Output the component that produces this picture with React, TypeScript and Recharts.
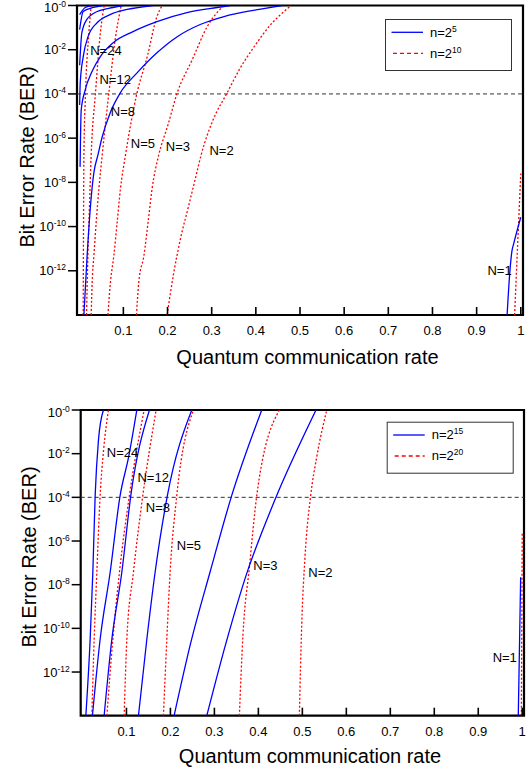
import {
  LineChart,
  Line,
  XAxis,
  YAxis,
  ReferenceLine,
  ReferenceArea,
  ReferenceDot,
} from "recharts";

// each point: [quantum communication rate, log10(BER)]
type Pt = [number, number];

const BLUE = "#0000ff";
const RED = "#ff0000";
const FONT = "'Liberation Sans', Arial, Helvetica, sans-serif";

const X_TICKS = [0.1, 0.2, 0.3, 0.4, 0.5, 0.6, 0.7, 0.8, 0.9, 1];
const Y_TICKS = [0, -2, -4, -6, -8, -10, -12];
const BER_THRESHOLD = -4;

// ---- top panel: n = 2^5 (blue) and n = 2^10 (red) ----
const topBlueN24: Pt[] = [[0.001, -0.41], [0.0136, -0.09], [0.029, 0]];
const topBlueN12: Pt[] = [[0.001, -1.09], [0.009, -0.27], [0.032, -0.09], [0.054, 0]];
const topBlueN8: Pt[] = [[0.001, -2.7], [0.006, -1.23], [0.017, -0.64], [0.041, -0.27], [0.077, -0.09], [0.1, 0]];
const topBlueN5: Pt[] = [[0.001, -4.5], [0.0023, -3.5], [0.009, -2.32], [0.02, -1.41], [0.041, -0.77], [0.07, -0.41], [0.109, -0.18], [0.167, 0]];
const topBlueN3: Pt[] = [[0.002, -7.3], [0.0045, -4.73], [0.0136, -3.82], [0.0287, -3.0], [0.0475, -2.32], [0.077, -1.68], [0.122, -1.18], [0.176, -0.73], [0.244, -0.32], [0.312, -0.09], [0.342, 0]];
const topBlueN2: Pt[] = [[0.0106, -14], [0.018, -11.3], [0.0256, -9.05], [0.0333, -7.55], [0.0423, -6.77], [0.052, -5.95], [0.07, -4.86], [0.093, -3.95], [0.131, -3.05], [0.176, -2.14], [0.222, -1.41], [0.274, -0.86], [0.328, -0.5], [0.4, -0.2], [0.46, 0]];
const topBlueN1: Pt[] = [[0.969, -14], [0.975, -12.1], [0.98, -11.1], [0.984, -10.77], [1.0, -9.58]];

const topRedN24: Pt[] = [[0.009, -14], [0.0097, -10.4], [0.0106, -6.86], [0.0143, -3.95], [0.0219, -1.23], [0.0271, 0]];
const topRedN12: Pt[] = [[0.0165, -14], [0.0197, -11.3], [0.0233, -9.05], [0.0271, -6.77], [0.0369, -3.95], [0.048, -1.23], [0.0566, 0]];
const topRedN8: Pt[] = [[0.0271, -14], [0.0294, -12.5], [0.0333, -11.3], [0.0385, -9.8], [0.0446, -8.29], [0.052, -6.77], [0.0672, -3.95], [0.0814, -1.55], [0.095, 0]];
const topRedN5: Pt[] = [[0.065, -14], [0.0708, -12.5], [0.0785, -11.3], [0.086, -9.8], [0.0934, -8.29], [0.1048, -6.77], [0.131, -3.95], [0.154, -2.32], [0.176, -0.5], [0.188, 0]];
const topRedN3: Pt[] = [[0.1296, -14], [0.135, -12.5], [0.1466, -11.3], [0.156, -9.8], [0.165, -8.29], [0.18, -6.77], [0.201, -5.4], [0.222, -3.95], [0.256, -2.45], [0.29, -0.95], [0.327, 0]];
const topRedN2: Pt[] = [[0.199, -14], [0.2142, -12.08], [0.2292, -10.56], [0.248, -9.05], [0.263, -7.83], [0.276, -6.77], [0.303, -5.18], [0.335, -3.95], [0.364, -2.85], [0.395, -1.9], [0.43, -0.95], [0.48, 0]];
const topRedN1: Pt[] = [[0.986, -14], [0.994, -10.3], [1.0, -7.6]];

// ---- bottom panel: n = 2^15 (blue) and n = 2^20 (red) ----
const botBlueN24: Pt[] = [[0.0077, -14], [0.0175, -10.5], [0.0236, -7.43], [0.0289, -3.91], [0.0364, -1.38], [0.0477, 0]];
const botBlueN12: Pt[] = [[0.0227, -14], [0.0402, -10.5], [0.063, -7.43], [0.0857, -3.91], [0.105, -2.15], [0.1236, 0]];
const botBlueN8: Pt[] = [[0.0493, -14], [0.0668, -10.5], [0.0895, -7.43], [0.11, -3.91], [0.1523, 0]];
const botBlueN5: Pt[] = [[0.1273, -14], [0.1464, -10.5], [0.1652, -7.43], [0.1932, -3.91], [0.2486, 0]];
const botBlueN3: Pt[] = [[0.2084, -14], [0.247, -10.6], [0.29, -7.43], [0.3395, -3.91], [0.4077, 0]];
const botBlueN2: Pt[] = [[0.2827, -14], [0.326, -10.7], [0.378, -7.22], [0.41, -5.5], [0.4448, -3.77], [0.5311, 0]];
const botBlueN1: Pt[] = [[0.991, -14], [0.9964, -7.66]];

const botRedN24: Pt[] = [[0.0214, -14], [0.0266, -10.5], [0.0327, -7.43], [0.0402, -3.91], [0.048, -1.84], [0.0591, 0]];
const botRedN12: Pt[] = [[0.0555, -14], [0.0691, -10.5], [0.0841, -7.43], [0.1068, -3.91], [0.1402, 0]];
const botRedN8: Pt[] = [[0.0948, -14], [0.1009, -10.5], [0.1159, -7.43], [0.1373, -3.91], [0.1675, 0]];
const botRedN5: Pt[] = [[0.1841, -14], [0.1918, -10.5], [0.1993, -7.43], [0.2145, -3.91], [0.2523, 0]];
const botRedN3: Pt[] = [[0.3568, -14], [0.365, -10.29], [0.3795, -7.22], [0.3964, -3.91], [0.4477, 0]];
const botRedN2: Pt[] = [[0.4932, -14], [0.4986, -9.81], [0.506, -6.74], [0.519, -3.91], [0.5327, -2.15], [0.5555, 0]];
const botRedN1: Pt[] = [[0.998, -14], [1.0, -5.6]];

// curve labels: [text, rate, log10(BER)] (left edge, vertical centre)
const topLabels: [string, number, number][] = [
  ["N=24", 0.0249, -2.03],
  ["N=12", 0.0459, -3.33],
  ["N=8", 0.0717, -4.8],
  ["N=5", 0.117, -6.24],
  ["N=3", 0.196, -6.36],
  ["N=2", 0.295, -6.58],
  ["N=1", 0.9246, -11.97],
];
const botLabels: [string, number, number][] = [
  ["N=24", 0.0555, -1.96],
  ["N=12", 0.125, -3.09],
  ["N=8", 0.144, -4.45],
  ["N=5", 0.2145, -6.21],
  ["N=3", 0.3886, -7.13],
  ["N=2", 0.5136, -7.43],
  ["N=1", 0.9327, -11.34],
];

const topRed = [topRedN24, topRedN12, topRedN8, topRedN5, topRedN3, topRedN2, topRedN1];
const topBlue = [topBlueN24, topBlueN12, topBlueN8, topBlueN5, topBlueN3, topBlueN2, topBlueN1];
const botRed = [botRedN24, botRedN12, botRedN8, botRedN5, botRedN3, botRedN2, botRedN1];
const botBlue = [botBlueN24, botBlueN12, botBlueN8, botBlueN5, botBlueN3, botBlueN2, botBlueN1];

const toRows = (pts: Pt[]) => pts.map(([rate, exp]) => ({ rate, exp }));

function XTick({ x, y, payload }: any) {
  const v = payload.value;
  return (
    <g>
      <line x1={x} x2={x} y1={y} y2={y - 8} stroke="#000" strokeWidth={1.6} />
      <text x={x} y={y + 20} textAnchor="middle" fontSize={13} fontFamily={FONT} fill="#000">
        {v === 1 ? "1" : v.toFixed(1)}
      </text>
    </g>
  );
}

function YTick({ x, y, payload }: any) {
  const top = payload.value === 0;
  const e = top ? "-0" : String(payload.value);
  return (
    <text x={x} y={y + (top ? 6.5 : 4.5)} textAnchor="end" fontSize={13} fontFamily={FONT} fill="#000">
      10
      <tspan dy={-5} fontSize={8.5}>
        {e}
      </tspan>
    </text>
  );
}

function LegendBox({ left, top, sups }: { left: number; top: number; sups: [string, string] }) {
  return (
    <g transform={`translate(${left} ${top})`}>
      <rect x={0.5} y={0.5} width={126} height={51} fill="#fff" stroke="#333" strokeWidth={1} />
      <line x1={6.5} x2={38} y1={13.3} y2={13.3} stroke={BLUE} strokeWidth={1.3} />
      <text x={45} y={17.8} fontSize={13} fontFamily={FONT} fill="#000">
        n=2<tspan dy={-5} fontSize={8.5}>{sups[0]}</tspan>
      </text>
      <line x1={8} x2={38} y1={34.3} y2={34.3} stroke={RED} strokeWidth={1.3} strokeDasharray="4 3" />
      <text x={45} y={38.8} fontSize={13} fontFamily={FONT} fill="#000">
        n=2<tspan dy={-5} fontSize={8.5}>{sups[1]}</tspan>
      </text>
    </g>
  );
}

type PanelProps = {
  height: number;
  margin: { top: number; right: number; bottom: number; left: number };
  xDomain: [number, number];
  red: Pt[][];
  blue: Pt[][];
  labels: [string, number, number][];
  prefix: string;
};

function Panel({ height, margin, xDomain, red, blue, labels, prefix }: PanelProps) {
  return (
    <LineChart width={531} height={height} margin={margin}>
      <XAxis
        type="number"
        dataKey="rate"
        domain={xDomain}
        ticks={X_TICKS}
        height={1}
        axisLine={false}
        tickLine={false}
        tickSize={0}
        tickMargin={0}
        tick={<XTick />}
        allowDataOverflow
        interval={0}
      />
      <YAxis
        type="number"
        dataKey="exp"
        domain={[-14, 0]}
        ticks={Y_TICKS}
        width={1}
        axisLine={false}
        tickLine={{ stroke: "#000", strokeWidth: 1.5 }}
        tickSize={9}
        tickMargin={2}
        tick={<YTick />}
        allowDataOverflow
        interval={0}
      />
      <ReferenceLine y={BER_THRESHOLD} stroke="#333" strokeWidth={1} strokeDasharray="4 3" />
      {red.map((pts, i) => (
        <Line
          key={`${prefix}-r${i}`}
          data={toRows(pts)}
          dataKey="exp"
          type="monotone"
          stroke={RED}
          strokeWidth={1.3}
          strokeDasharray="2 2"
          dot={false}
          activeDot={false}
          isAnimationActive={false}
        />
      ))}
      {blue.map((pts, i) => (
        <Line
          key={`${prefix}-b${i}`}
          data={toRows(pts)}
          dataKey="exp"
          type="monotone"
          stroke={BLUE}
          strokeWidth={1.3}
          dot={false}
          activeDot={false}
          isAnimationActive={false}
        />
      ))}
      {labels.map(([text, rate, exp]) => (
        <ReferenceDot
          key={`${prefix}-${text}`}
          x={rate}
          y={exp}
          r={0}
          shape={(p: any) => (
            <text x={p.cx} y={p.cy + 4.5} fontSize={13} fontFamily={FONT} fill="#000">
              {text}
            </text>
          )}
        />
      ))}
      <ReferenceArea
        x1={xDomain[0]}
        x2={xDomain[1]}
        y1={-14}
        y2={0}
        fill="none"
        stroke="#000"
        strokeWidth={2.2}
      />
    </LineChart>
  );
}

function Overlay() {
  const t = { fontSize: 20, fontFamily: FONT, fill: "#000" };
  return (
    <svg width={531} height={767} style={{ position: "absolute", left: 0, top: 0, pointerEvents: "none" }}>
      <text {...t} x={33.5} y={157} textAnchor="middle" transform="rotate(-90 33.5 157)">
        Bit Error Rate (BER)
      </text>
      <text {...t} x={307.5} y={364} textAnchor="middle">
        Quantum communication rate
      </text>
      <text {...t} x={35.5} y={557} textAnchor="middle" transform="rotate(-90 35.5 557)">
        Bit Error Rate (BER)
      </text>
      <text {...t} x={310} y={763} textAnchor="middle">
        Quantum communication rate
      </text>
      <LegendBox left={385} top={19} sups={["5", "10"]} />
      <LegendBox left={386.7} top={421.7} sups={["15", "20"]} />
    </svg>
  );
}

export default function App() {
  return (
    <div style={{ position: "absolute", left: 0, top: 0, width: 531, height: 767, background: "#fff", fontFamily: FONT }}>
      <div style={{ position: "absolute", left: 0, top: 0 }}>
        <Panel
          height={383}
          margin={{ top: 5.5, right: 8, bottom: 67, left: 76 }}
          xDomain={[-0.005, 1.005]}
          red={topRed}
          blue={topBlue}
          labels={topLabels}
          prefix="top"
        />
      </div>
      <div style={{ position: "absolute", left: 0, top: 383 }}>
        <Panel
          height={384}
          margin={{ top: 27, right: 7, bottom: 50.3, left: 79.7 }}
          xDomain={[-0.004, 1.004]}
          red={botRed}
          blue={botBlue}
          labels={botLabels}
          prefix="bot"
        />
      </div>
      <Overlay />
    </div>
  );
}
